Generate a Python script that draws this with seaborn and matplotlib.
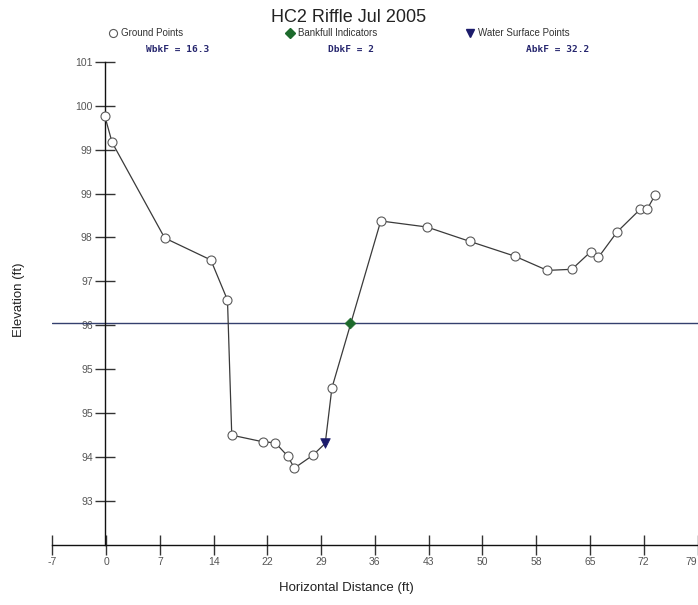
import numpy as np
import pandas as pd
import matplotlib
matplotlib.use("Agg")
import matplotlib.pyplot as plt
from matplotlib.lines import Line2D
import seaborn as sns

# ---------------- data ----------------
ground_x = [0.0, 0.97, 7.98, 14.13, 16.35, 16.92, 21.04, 22.73, 24.37, 25.26, 27.69,
            30.27, 36.78, 42.94, 48.61, 54.63, 58.98, 62.25, 64.77, 65.80, 68.28,
            71.34, 72.27, 73.34]
ground_y = [100.01, 99.53, 97.79, 97.39, 96.66, 94.20, 94.08, 94.06, 93.82, 93.60, 93.83,
            95.06, 98.10, 97.99, 97.73, 97.46, 97.20, 97.22, 97.54, 97.44, 97.90,
            98.31, 98.31, 98.57]
water_x = [29.38]
water_y = [94.05]
bankfull_x = [32.66]
bankfull_y = [96.24]
bankfull_elev = 96.24

x_tick_labels = ["-7", "0", "7", "14", "22", "29", "36", "43", "50", "58", "65", "72", "79"]
y_tick_labels = ["101", "100", "99", "99", "98", "97", "96", "95", "95", "94", "93"]

title = "HC2 Riffle Jul 2005"
stats_labels = ["WbkF = 16.3", "DbkF = 2", "AbkF = 32.2"]
legend_labels = ["Ground Points", "Bankfull Indicators", "Water Surface Points"]

# ---------------- style ----------------
sns.set_style("white")
plt.rcParams["font.family"] = ["Liberation Sans", "DejaVu Sans"]

W, H = 698, 605
fig = plt.figure(figsize=(W / 100, H / 100), dpi=100)

# axes placement in pixels
ax_left_px, ax_right_px = 52.3, 697.5
ax_top_px, ax_bot_px = 61.7, 545.0
ax = fig.add_axes([ax_left_px / W, (H - ax_bot_px) / H,
                   (ax_right_px - ax_left_px) / W, (ax_bot_px - ax_top_px) / H])

# profile (ground + water surface points joined along the section)
profile = pd.DataFrame({"x": ground_x + water_x, "y": ground_y + water_y}).sort_values("x")
ground = pd.DataFrame({"x": ground_x, "y": ground_y})
water = pd.DataFrame({"x": water_x, "y": water_y})
bank = pd.DataFrame({"x": bankfull_x, "y": bankfull_y})

line_col = "#3a3a3a"
circ_col = "#5a5a5a"
green = "#1d6a2c"
navy = "#1b1b6b"
bf_line = "#34406e"

ax.axhline(bankfull_elev, color=bf_line, lw=1.0, zorder=1)
sns.lineplot(data=profile, x="x", y="y", sort=False, estimator=None,
             color=line_col, lw=0.9, ax=ax, zorder=2)
sns.scatterplot(data=ground, x="x", y="y", marker="o", s=42,
                facecolor="white", edgecolor=circ_col, linewidth=0.8, ax=ax, zorder=3)
sns.scatterplot(data=water, x="x", y="y", marker="v", s=48,
                color=navy, edgecolor=navy, linewidth=0.5, ax=ax, zorder=4)
sns.scatterplot(data=bank, x="x", y="y", marker="D", s=30,
                color=green, edgecolor=green, linewidth=0.5, ax=ax, zorder=4)

# axes limits and ticks
ax.set_xlim(-7, 79)
ax.set_ylim(92.2, 101.0)
ax.set_xticks(np.linspace(-7, 79, len(x_tick_labels)))
ax.set_xticklabels(x_tick_labels)
ax.set_yticks(101.0 - 0.8 * np.arange(len(y_tick_labels)))
ax.set_yticklabels(y_tick_labels)
# keep the last (edge) x label inside the picture
ax.get_xticklabels()[-1].set_horizontalalignment("right")

for s in ["top", "right"]:
    ax.spines[s].set_visible(False)
ax.spines["left"].set_position(("data", 0))
for s in ["left", "bottom"]:
    ax.spines[s].set_color("#111111")
    ax.spines[s].set_linewidth(1.0)

ax.tick_params(axis="both", which="major", bottom=True, left=True,
               direction="inout", length=14.5, width=1.0,
               color="#333333", labelcolor="#555555", labelsize=7.5, pad=1.5)
ax.grid(False)

ax.set_xlabel("Horizontal Distance (ft)", fontsize=9.5, color="#222222")
ax.set_ylabel("Elevation (ft)", fontsize=9.5, color="#222222")
axw = ax_right_px - ax_left_px
axh = ax_bot_px - ax_top_px
ax.xaxis.set_label_coords((346 - ax_left_px) / axw, -(582 - ax_bot_px) / axh)
ax.yaxis.set_label_coords((25 - ax_left_px) / axw, (ax_bot_px - 300) / axh)

# title
fig.text(349 / W, 1 - 17 / H, title, ha="center", va="center",
         fontsize=13, color="#222222")

# legend entries (three independent single-entry legends, laid out as in the reference)
handles = [
    Line2D([], [], ls="none", marker="o", ms=5.8, mfc="white", mec=circ_col, mew=0.8),
    Line2D([], [], ls="none", marker="D", ms=4.8, mfc=green, mec=green),
    Line2D([], [], ls="none", marker="v", ms=6.2, mfc=navy, mec=navy),
]
leg_x_px = [108, 285, 465]
for h, lab, xp in zip(handles, legend_labels, leg_x_px):
    fig.legend([h], [lab], loc="center left", bbox_to_anchor=(xp / W, 1 - 33 / H),
               frameon=False, fontsize=7, handlelength=1.0, handletextpad=0.35,
               borderpad=0, borderaxespad=0, labelcolor="#333333")

# bankfull statistics
stat_x_px = [178, 351, 558]
for lab, xp in zip(stats_labels, stat_x_px):
    fig.text(xp / W, 1 - 50 / H, lab, ha="center", va="center", fontsize=6.8,
             fontweight="bold", family="DejaVu Sans Mono", color="#26266e")

fig.savefig("out.png", dpi=100)
